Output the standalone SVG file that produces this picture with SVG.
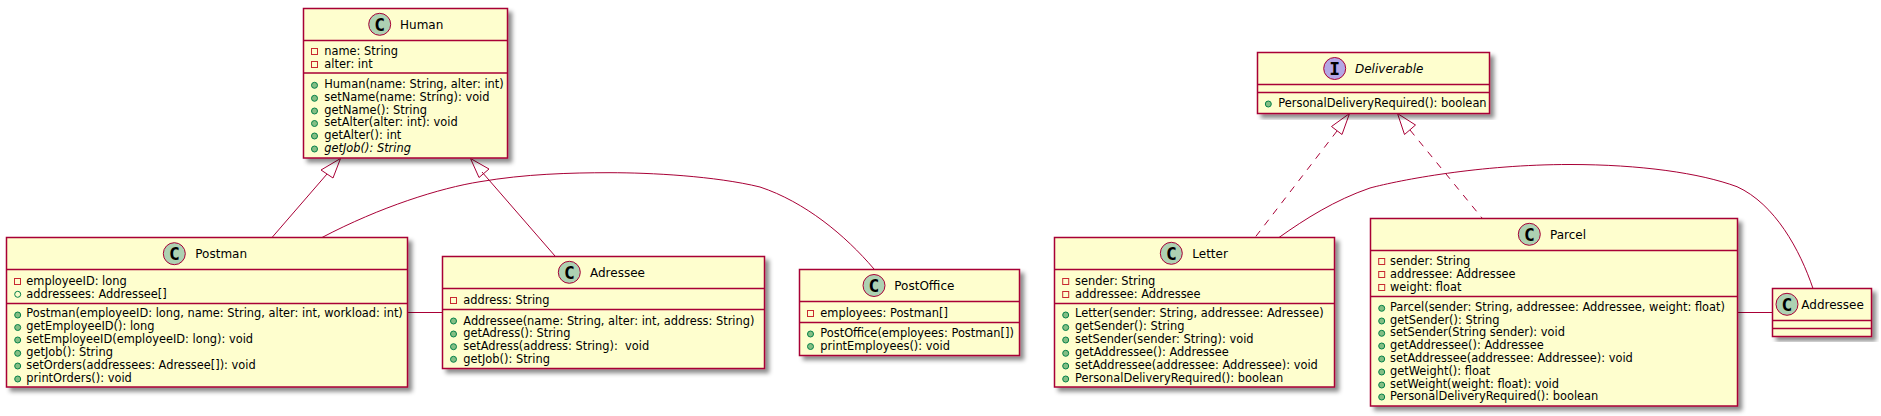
<svg xmlns="http://www.w3.org/2000/svg" width="1881" height="416" viewBox="0 0 1881 416">
<style>
text{font-family:"DejaVu Sans",sans-serif;fill:#000;white-space:pre}
.t{font-size:12px}
.m{font-size:11.4px}
.g{font-family:"DejaVu Sans Mono",monospace;font-weight:bold;font-size:18px;text-anchor:middle}
.box{fill:#FEFECE;stroke:#A80036;stroke-width:1.5;filter:url(#sh)}
.sep{stroke:#A80036;stroke-width:1.5}
.spot{fill:#ADD1B2;stroke:#A80036;stroke-width:1}
.spoti{fill:#B4A7E5;stroke:#A80036;stroke-width:1}
.pri{fill:none;stroke:#C82930;stroke-width:1}
.pub{fill:#84BE84;stroke:#038048;stroke-width:1}
.pubo{fill:none;stroke:#038048;stroke-width:1}
#connectors path{fill:none;stroke:#A80036;stroke-width:1}
#connectors polygon{fill:none;stroke:#A80036;stroke-width:1}
#connectors .d{stroke-dasharray:7 7}
</style>
<defs>
<filter id="sh" x="-5%" y="-5%" width="112%" height="115%"><feDropShadow dx="4" dy="4" stdDeviation="2" flood-color="#000" flood-opacity="0.45"/></filter>
</defs>
<g id="connectors">
<path d="M327,174 L272,237.5"/>
<polygon points="340.5,158.5 321,170 333,178"/>
<path d="M482,172 L555,256"/>
<polygon points="470.5,158.5 489,169 479,177.5"/>
<path d="M322,237.5 C380,207 440,188 480,181.7 C525,174 570,172.7 610,172.7 C650,172.7 715,176 760,187 C805,202 845,235 874,269"/>
<path d="M407.5,312.5 L442.5,312.5"/>
<path d="M1337,131 L1255,237.5" class="d"/>
<polygon points="1349.5,113.5 1331.5,126.5 1342,134.5"/>
<path d="M1410,130 L1482,218" class="d"/>
<polygon points="1397.5,113.5 1415.5,125 1404.5,134.5"/>
<path d="M1279,237.5 C1305,219 1335,200 1370,188 C1400,180 1480,164.5 1570,164.5 C1640,164.5 1700,173 1737,186.7 C1775,204 1800,250 1813,288.5"/>
<path d="M1737.5,312.5 L1772.5,312.5"/>
</g>
<g id="Human">
<rect class="box" x="303.5" y="8.5" width="204" height="149.5"/>
<path class="sep" d="M303.5,40.5H507.5M303.5,73H507.5"/>
<circle class="spot" cx="379.7" cy="24.3" r="11"/><text class="g" x="379.7" y="30.5">C</text>
<text class="t" x="400" y="28.5">Human</text>
<rect class="pri" x="311.5" y="48.5" width="6" height="6"/><text class="m" x="324.3" y="54.5">name: String</text>
<rect class="pri" x="311.5" y="61.5" width="6" height="6"/><text class="m" x="324.3" y="67.5">alter: int</text>
<circle class="pub" cx="314.5" cy="85.3" r="3"/><text class="m" x="324.3" y="88">Human(name: String, alter: int)</text>
<circle class="pub" cx="314.5" cy="98.3" r="3"/><text class="m" x="324.3" y="101">setName(name: String): void</text>
<circle class="pub" cx="314.5" cy="111" r="3"/><text class="m" x="324.3" y="113.5">getName(): String</text>
<circle class="pub" cx="314.5" cy="123.5" r="3"/><text class="m" x="324.3" y="126">setAlter(alter: int): void</text>
<circle class="pub" cx="314.5" cy="136" r="3"/><text class="m" x="324.3" y="139">getAlter(): int</text>
<circle class="pub" cx="314.5" cy="149" r="3"/><text class="m" x="324.3" y="152" font-style="italic">getJob(): String</text>
</g>
<g id="Postman">
<rect class="box" x="6.5" y="237.5" width="401" height="149.5"/>
<path class="sep" d="M6.5,269.5H407.5M6.5,303.5H407.5"/>
<circle class="spot" cx="174.3" cy="253.7" r="11"/><text class="g" x="174.3" y="260">C</text>
<text class="t" x="195.3" y="258">Postman</text>
<rect class="pri" x="14.5" y="278.5" width="6" height="6"/><text class="m" x="26.3" y="284.5">employeeID: long</text>
<circle class="pubo" cx="17.7" cy="294.3" r="3"/><text class="m" x="26.3" y="297.5">addressees: Addressee[]</text>
<circle class="pub" cx="17.7" cy="315" r="3"/><text class="m" x="26.3" y="317">Postman(employeeID: long, name: String, alter: int, workload: int)</text>
<circle class="pub" cx="17.7" cy="327.5" r="3"/><text class="m" x="26.3" y="330">getEmployeeID(): long</text>
<circle class="pub" cx="17.7" cy="340" r="3"/><text class="m" x="26.3" y="343">setEmployeeID(employeeID: long): void</text>
<circle class="pub" cx="17.7" cy="353.3" r="3"/><text class="m" x="26.3" y="356">getJob(): String</text>
<circle class="pub" cx="17.7" cy="366" r="3"/><text class="m" x="26.3" y="369">setOrders(addressees: Adressee[]): void</text>
<circle class="pub" cx="17.7" cy="379" r="3"/><text class="m" x="26.3" y="381.5">printOrders(): void</text>
</g>
<g id="Adressee">
<rect class="box" x="442.5" y="256.5" width="322" height="112"/>
<path class="sep" d="M442.5,288.5H764.5M442.5,309.5H764.5"/>
<circle class="spot" cx="569.3" cy="272.3" r="11"/><text class="g" x="569.3" y="278.5">C</text>
<text class="t" x="590" y="277">Adressee</text>
<rect class="pri" x="450.5" y="297.5" width="6" height="6"/><text class="m" x="463.3" y="303.5">address: String</text>
<circle class="pub" cx="453.5" cy="321" r="3"/><text class="m" x="463.3" y="324.5">Addressee(name: String, alter: int, address: String)</text>
<circle class="pub" cx="453.5" cy="334" r="3"/><text class="m" x="463.3" y="337">getAdress(): String</text>
<circle class="pub" cx="453.5" cy="346.7" r="3"/><text class="m" x="463.3" y="349.5">setAdress(address: String):  void</text>
<circle class="pub" cx="453.5" cy="359.3" r="3"/><text class="m" x="463.3" y="362.5">getJob(): String</text>
</g>
<g id="PostOffice">
<rect class="box" x="799.5" y="269.5" width="220" height="86"/>
<path class="sep" d="M799.5,301.5H1019.5M799.5,322.5H1019.5"/>
<circle class="spot" cx="874" cy="285.5" r="11"/><text class="g" x="874" y="291.7">C</text>
<text class="t" x="894.3" y="290">PostOffice</text>
<rect class="pri" x="807.5" y="310.5" width="6" height="6"/><text class="m" x="820.3" y="316.7">employees: Postman[]</text>
<circle class="pub" cx="810.5" cy="334" r="3"/><text class="m" x="820.3" y="337">PostOffice(employees: Postman[])</text>
<circle class="pub" cx="810.5" cy="346.5" r="3"/><text class="m" x="820.3" y="349.5">printEmployees(): void</text>
</g>
<g id="Deliverable">
<rect class="box" x="1257.5" y="52.5" width="232" height="61"/>
<path class="sep" d="M1257.5,84.5H1489.5M1257.5,92.5H1489.5"/>
<circle class="spoti" cx="1334.7" cy="68.5" r="11"/><text class="g" x="1334.7" y="74.7">I</text>
<text class="t" x="1355" y="72.7" font-style="italic">Deliverable</text>
<circle class="pub" cx="1268.3" cy="104" r="3"/><text class="m" x="1278.3" y="107">PersonalDeliveryRequired(): boolean</text>
</g>
<g id="Letter">
<rect class="box" x="1054.5" y="237.5" width="280" height="149.5"/>
<path class="sep" d="M1054.5,269.5H1334.5M1054.5,303.5H1334.5"/>
<circle class="spot" cx="1171.3" cy="253.3" r="11"/><text class="g" x="1171.3" y="259.5">C</text>
<text class="t" x="1192.3" y="258">Letter</text>
<rect class="pri" x="1062.7" y="278.5" width="6" height="6"/><text class="m" x="1075" y="284.5">sender: String</text>
<rect class="pri" x="1062.7" y="291.5" width="6" height="6"/><text class="m" x="1075" y="297.5">addressee: Addressee</text>
<circle class="pub" cx="1065.7" cy="315" r="3"/><text class="m" x="1075" y="317">Letter(sender: String, addressee: Adressee)</text>
<circle class="pub" cx="1065.7" cy="327.5" r="3"/><text class="m" x="1075" y="330">getSender(): String</text>
<circle class="pub" cx="1065.7" cy="340" r="3"/><text class="m" x="1075" y="343">setSender(sender: String): void</text>
<circle class="pub" cx="1065.7" cy="353.3" r="3"/><text class="m" x="1075" y="356">getAddressee(): Addressee</text>
<circle class="pub" cx="1065.7" cy="366" r="3"/><text class="m" x="1075" y="369">setAddressee(addressee: Addressee): void</text>
<circle class="pub" cx="1065.7" cy="379" r="3"/><text class="m" x="1075" y="381.5">PersonalDeliveryRequired(): boolean</text>
</g>
<g id="Parcel">
<rect class="box" x="1370.5" y="218.5" width="367" height="187.5"/>
<path class="sep" d="M1370.5,250.5H1737.5M1370.5,296.5H1737.5"/>
<circle class="spot" cx="1529.3" cy="234.3" r="11"/><text class="g" x="1529.3" y="240.5">C</text>
<text class="t" x="1550" y="239">Parcel</text>
<rect class="pri" x="1378.7" y="258.5" width="6" height="6"/><text class="m" x="1390" y="264.5">sender: String</text>
<rect class="pri" x="1378.7" y="271.5" width="6" height="6"/><text class="m" x="1390" y="277.5">addressee: Addressee</text>
<rect class="pri" x="1378.7" y="284.5" width="6" height="6"/><text class="m" x="1390" y="290.5">weight: float</text>
<circle class="pub" cx="1381.7" cy="308.3" r="3"/><text class="m" x="1390" y="311">Parcel(sender: String, addressee: Addressee, weight: float)</text>
<circle class="pub" cx="1381.7" cy="321" r="3"/><text class="m" x="1390" y="323.5">getSender(): String</text>
<circle class="pub" cx="1381.7" cy="333.3" r="3"/><text class="m" x="1390" y="336">setSender(String sender): void</text>
<circle class="pub" cx="1381.7" cy="346" r="3"/><text class="m" x="1390" y="349">getAddressee(): Addressee</text>
<circle class="pub" cx="1381.7" cy="359" r="3"/><text class="m" x="1390" y="362">setAddressee(addressee: Addressee): void</text>
<circle class="pub" cx="1381.7" cy="372" r="3"/><text class="m" x="1390" y="375">getWeight(): float</text>
<circle class="pub" cx="1381.7" cy="385" r="3"/><text class="m" x="1390" y="387.5">setWeight(weight: float): void</text>
<circle class="pub" cx="1381.7" cy="397" r="3"/><text class="m" x="1390" y="400">PersonalDeliveryRequired(): boolean</text>
</g>
<g id="Addressee">
<rect class="box" x="1772.5" y="288.5" width="99" height="48"/>
<path class="sep" d="M1772.5,320.5H1871.5M1772.5,328.5H1871.5"/>
<circle class="spot" cx="1787" cy="304.3" r="11"/><text class="g" x="1787" y="310.5">C</text>
<text class="t" x="1801.3" y="309">Addressee</text>
</g>
</svg>
